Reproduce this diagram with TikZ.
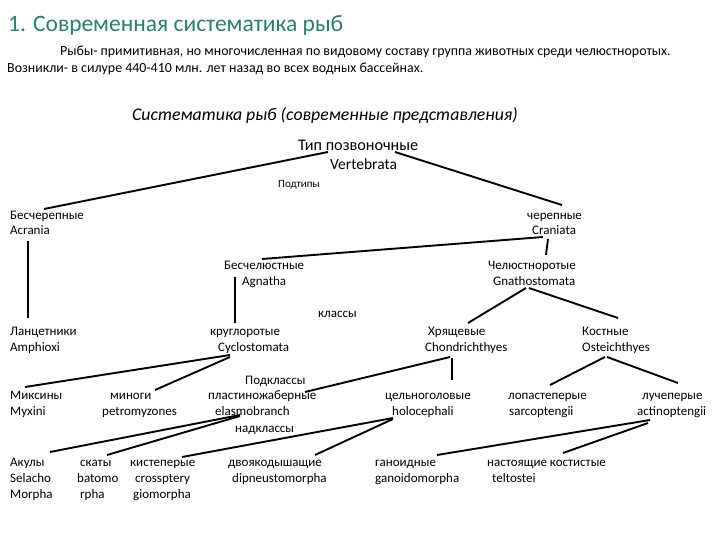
\documentclass[tikz,border=0pt]{standalone}
\usepackage{fontspec}
\setmainfont{Carlito}
\definecolor{titlecol}{RGB}{40,128,112}
\begin{document}
\begin{tikzpicture}[x=1pt,y=-1pt,
  lab/.style={anchor=base west, inner sep=0pt, font=\fontsize{13}{15}\selectfont},
  conn/.style={line width=1.9pt}]
\useasboundingbox[fill=white] (0,0) rectangle (720,540);
% headings
\node[lab, font=\fontsize{23.5}{26}\selectfont, text=titlecol] (title) at (8,32) {1. Современная систематика рыб};
\node[lab, font=\fontsize{13.9}{15}\selectfont] (p1) at (60,56) {Рыбы- примитивная, но многочисленная по видовому составу группа животных среди челюстноротых.};
\node[lab, font=\fontsize{13.9}{15}\selectfont] (p2) at (7,73) {Возникли- в силуре 440-410 млн. лет назад во всех водных бассейнах.};
\node[lab, font=\fontsize{17.8}{19}\itshape] (sub) at (132,121) {Систематика рыб (современные представления)};
% top
\node[lab, font=\fontsize{16.2}{17}\selectfont] (tip) at (298,151) {Тип позвоночные};
\node[lab, font=\fontsize{15.5}{17}\selectfont] (vert) at (330,170) {Vertebrata};
\node[lab, font=\fontsize{11}{13}\selectfont] (podtip) at (278,188) {Подтипы};
% level 2
\node[lab] (besch) at (10,219) {Бесчерепные};
\node[lab] (acrania) at (10,235) {Acrania};
\node[lab] (cher) at (527,219) {черепные};
\node[lab] (craniata) at (532,235) {Craniata};
% level 3
\node[lab] (beschel) at (224,269) {Бесчелюстные};
\node[lab] (agnatha) at (242,285) {Agnatha};
\node[lab] (chelust) at (488,269) {Челюстноротые};
\node[lab] (gnatho) at (493,285) {Gnathostomata};
\node[lab] (klassy) at (318,317) {классы};
% level 4
\node[lab] (lanc) at (10,335) {Ланцетники};
\node[lab] (amph) at (10,351) {Amphioxi};
\node[lab] (krugl) at (210,335) {круглоротые};
\node[lab] (cyclo) at (218,351) {Cyclostomata};
\node[lab] (hryash) at (428,335) {Хрящевые};
\node[lab] (chondr) at (425,351) {Chondrichthyes};
\node[lab] (kostn) at (582,335) {Костные};
\node[lab] (osteich) at (582,351) {Osteichthyes};
% level 5
\node[lab] (podkl) at (245,384) {Подклассы};
\node[lab] (miks) at (10,399) {Миксины};
\node[lab] (myxini) at (10,415) {Myxini};
\node[lab] (minogi) at (110,399) {миноги};
\node[lab] (petro) at (102,415) {petromyzones};
\node[lab] (plast) at (208,399) {пластиножаберные};
\node[lab] (elasmo) at (215,415) {elasmobranch};
\node[lab] (nadkl) at (235,432) {надклассы};
\node[lab] (celno) at (385,399) {цельноголовые};
\node[lab] (holo) at (392,415) {holocephali};
\node[lab] (lopast) at (508,399) {лопастеперые};
\node[lab] (sarco) at (509,415) {sarcoptengii};
\node[lab] (luch) at (642,399) {лучеперые};
\node[lab] (actino) at (637,415) {actinoptengii};
% level 6
\node[lab] (akul) at (10,466) {Акулы};
\node[lab] (selacho) at (10,482) {Selacho};
\node[lab] (morpha) at (10,498) {Morpha};
\node[lab] (skaty) at (80,466) {скаты};
\node[lab] (batomo) at (77,482) {batomo};
\node[lab] (rpha) at (80,498) {rpha};
\node[lab] (kist) at (130,466) {кистеперые};
\node[lab] (crossp) at (135,482) {crossptery};
\node[lab] (giomor) at (133,498) {giomorpha};
\node[lab] (dvoyak) at (228,466) {двоякодышащие};
\node[lab] (dipneu) at (232,482) {dipneustomorpha};
\node[lab] (ganoid) at (375,466) {ганоидные};
\node[lab] (ganoidm) at (375,482) {ganoidomorpha};
\node[lab] (nastoy) at (487,466) {настоящие костистые};
\node[lab] (teleo) at (492,482) {teltostei};
% connectors
\draw[conn] ([shift={(30,1)}]tip.base west) -- ([shift={(34,-10)}]besch.base west);
\draw[conn] ([shift={(97,1)}]tip.base west) -- ([shift={(35,-14)}]cher.base west);
\draw[conn] ([shift={(18,6)}]acrania.base west) -- ([shift={(18,-17)}]lanc.base west);
\draw[conn] ([shift={(11,2)}]craniata.base west) -- ([shift={(38,-10)}]beschel.base west);
\draw[conn] ([shift={(16,4)}]craniata.base west) -- ([shift={(58,-14)}]chelust.base west);
\draw[conn] ([shift={(-7,-8)}]agnatha.base west) -- ([shift={(25,-12)}]krugl.base west);
\draw[conn] ([shift={(33,3)}]gnatho.base west) -- ([shift={(40,-12)}]hryash.base west);
\draw[conn] ([shift={(36,3)}]gnatho.base west) -- ([shift={(36,-17)}]kostn.base west);
\draw[conn] ([shift={(12,4)}]cyclo.base west) -- ([shift={(15,-12)}]miks.base west);
\draw[conn] ([shift={(12,6)}]cyclo.base west) -- ([shift={(45,-9)}]minogi.base west);
\draw[conn] ([shift={(25,6)}]chondr.base west) -- ([shift={(97,-7)}]plast.base west);
\draw[conn] ([shift={(27,7)}]chondr.base west) -- ([shift={(67,-19)}]celno.base west);
\draw[conn] ([shift={(23,6)}]osteich.base west) -- ([shift={(42,-14)}]lopast.base west);
\draw[conn] ([shift={(25,6)}]osteich.base west) -- ([shift={(36,-16)}]luch.base west);
\draw[conn] ([shift={(25,0)}]elasmo.base west) -- ([shift={(40,-14)}]akul.base west);
\draw[conn] ([shift={(25,1)}]elasmo.base west) -- ([shift={(27,-11)}]skaty.base west);
\draw[conn] ([shift={(1,3)}]holo.base west) -- ([shift={(52,-9)}]kist.base west);
\draw[conn] ([shift={(1,4)}]holo.base west) -- ([shift={(87,-11)}]dvoyak.base west);
\draw[conn] ([shift={(13,5)}]actino.base west) -- ([shift={(62,-11)}]ganoid.base west);
\draw[conn] ([shift={(11,8)}]actino.base west) -- ([shift={(76,-13)}]nastoy.base west);
\end{tikzpicture}
\end{document}
